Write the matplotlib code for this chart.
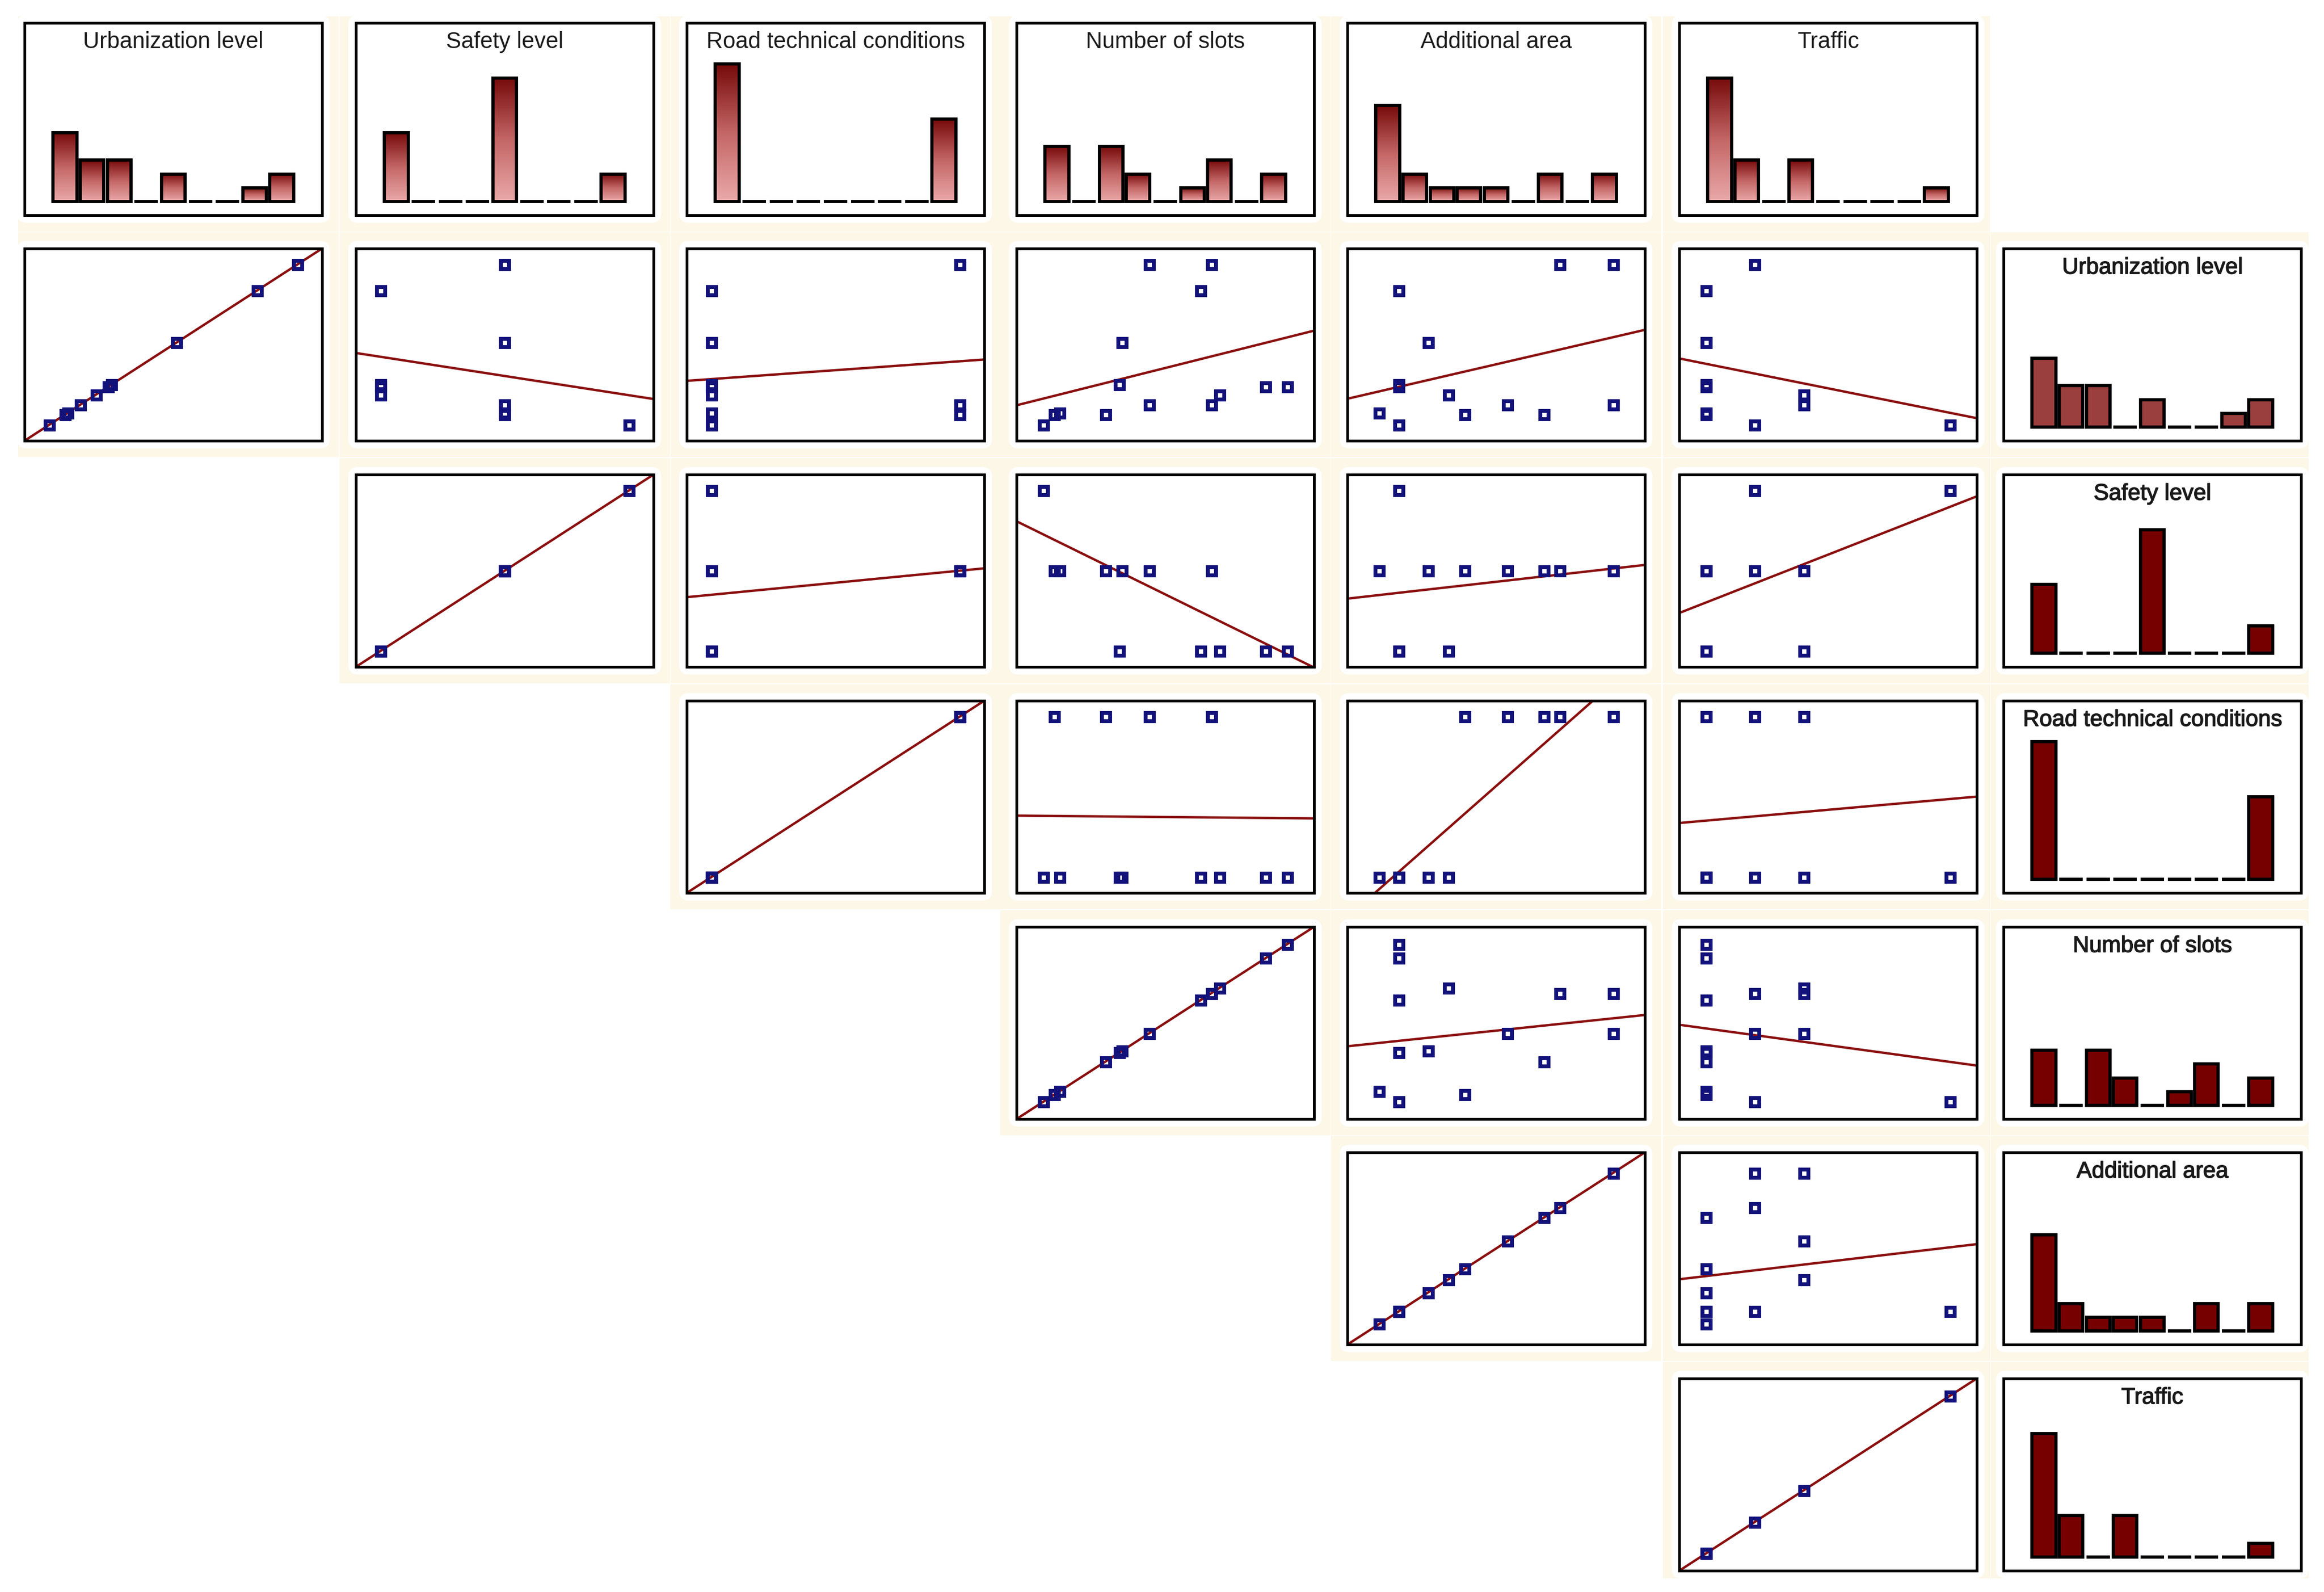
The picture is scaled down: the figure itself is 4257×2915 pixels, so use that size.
import numpy as np
import matplotlib.pyplot as plt
from matplotlib.patches import Rectangle, FancyBboxPatch
from matplotlib.colors import LinearSegmentedColormap
from matplotlib.transforms import IdentityTransform
import matplotlib.patheffects as pe

plt.rcParams['font.family'] = ['Liberation Sans', 'DejaVu Sans']

# variable names (same order in rows and columns)
labels = ["Urbanization level", "Safety level", "Road technical conditions",
          "Number of slots", "Additional area", "Traffic"]

urbanization = [10, 10, 15, 16, 15, 30, 51, 51, 90, 20, 77, 90, 20, 25, 29, 29]
safety = [3, 3, 2, 2, 2, 1, 2, 2, 2, 2, 1, 2, 2, 1, 1, 1]
road = [1, 1, 2, 1, 2, 1, 1, 1, 2, 2, 1, 2, 2, 1, 1, 1]
slots = [10, 10, 14, 16, 33, 38, 39, 39, 49, 49, 68, 72, 72, 75, 92, 100]
area = [88, 88, 215, 50, 367, 88, 144, 144, 500, 297, 88, 397, 500, 183, 88, 88]
traffic = [2, 6, 1, 1, 1, 1, 1, 1, 2, 3, 1, 2, 3, 3, 1, 1]

data = [urbanization, safety, road, slots, area, traffic]
n_bins = 9

# layout in output pixels
W, H = 4257, 2915
DPI = 300
col_left = [45, 652, 1258, 1862, 2468, 3076, 3670]
row_top = [42, 455, 869, 1283, 1697, 2110, 2524]
box_w, box_h = 545, 352
scatter_pad = [0.10, 0.10, 0.10, 0.11, 0.136, 0.11]
hist_pad = 0.11

cream = '#fdf7e7'
marker_col = '#12127a'
line_col = '#8a0e0e'
right_bar_col = ['#9a3e3e', '#760000', '#760000', '#760000', '#760000', '#760000']

grad_cmap = LinearSegmentedColormap.from_list('bar', ['#eaa9a9', '#c46666', '#760a0a'])
grad = np.linspace(1, 0, 256).reshape(-1, 1)

fig = plt.figure(figsize=(W / DPI, H / DPI), dpi=DPI)
fig.patch.set_facecolor('white')


def limits(v, pad):
    lo, hi = min(v), max(v)
    r = hi - lo
    return lo - pad * r, hi + pad * r


def make_cell(r, c):
    x0, y0 = col_left[c], row_top[r]
    gl = 12 if c == 0 else 30
    gr = 14 if c == 6 else (24 if c == 5 else 30)
    gt = 12 if r == 0 else 30
    gb = 14 if r == 6 else 30
    if c == 6:
        gl = 24
    bg = Rectangle((x0 - gl, H - (y0 + box_h + gb)), box_w + gl + gr, box_h + gt + gb,
                   transform=IdentityTransform(), facecolor=cream, edgecolor='none', zorder=-3)
    fig.add_artist(bg)
    halo = FancyBboxPatch((x0 - 2, H - (y0 + box_h) - 2), box_w + 4, box_h + 4,
                          boxstyle='round,pad=12,rounding_size=18',
                          transform=IdentityTransform(), facecolor='white',
                          edgecolor='none', zorder=-2)
    fig.add_artist(halo)
    ax = fig.add_axes([x0 / W, 1 - (y0 + box_h) / H, box_w / W, box_h / H])
    ax.set_xticks([])
    ax.set_yticks([])
    for s in ax.spines.values():
        s.set_linewidth(1.2)
        s.set_color('black')
    return ax


def draw_hist(ax, values, title, gradient, color, bold=False):
    lo, hi = min(values), max(values)
    counts, edges = np.histogram(values, bins=n_bins, range=(lo, hi))
    bw = edges[1] - edges[0]
    for k, cnt in enumerate(counts):
        left = edges[k] + bw * 0.065
        w = bw * 0.87
        if gradient and cnt > 0:
            ax.imshow(grad, extent=(left, left + w, 0, cnt), aspect='auto',
                      cmap=grad_cmap, interpolation='bicubic', zorder=2)
        ax.bar(left, cnt, width=w, align='edge',
               facecolor='none' if gradient else color,
               edgecolor='black', linewidth=1.4, zorder=3)
    ax.set_xlim(limits(values, hist_pad))
    ax.set_ylim(-1, 13)
    txt = ax.text(0.5, 0.9, title, transform=ax.transAxes, ha='center', va='center',
                  fontsize=10, color='#1a1a1a')
    if bold:
        txt.set_path_effects([pe.withStroke(linewidth=0.35, foreground='#1a1a1a')])


def draw_scatter(ax, x, y, px, py):
    x = np.asarray(x, float)
    y = np.asarray(y, float)
    xl = limits(x, px)
    yl = limits(y, py)
    slope, icpt = np.polyfit(x, y, 1)
    xs = np.array(xl)
    ax.plot(xs, slope * xs + icpt, color=line_col, lw=1.05, zorder=2)
    ax.plot(x, y, 's', ms=3.6, mfc='none', mec=marker_col, mew=1.7, zorder=3)
    ax.set_xlim(xl)
    ax.set_ylim(yl)


# top row: histograms with gradient fill
for c in range(6):
    ax = make_cell(0, c)
    draw_hist(ax, data[c], labels[c], True, None)

# upper triangle of scatter plots + right column histograms
for i in range(6):
    r = i + 1
    for c in range(i, 6):
        ax = make_cell(r, c)
        draw_scatter(ax, data[c], data[i], scatter_pad[c], scatter_pad[i])
    ax = make_cell(r, 6)
    draw_hist(ax, data[i], labels[i], False, right_bar_col[i], bold=True)

fig.savefig('out.png', dpi=DPI, facecolor='white')
